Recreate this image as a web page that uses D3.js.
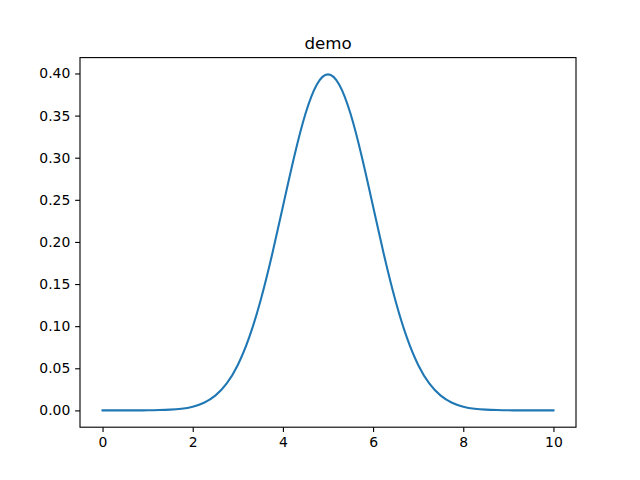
<!DOCTYPE html>
<html><head><meta charset="utf-8">
<script src="https://cdn.jsdelivr.net/npm/d3@7"></script>
<style>body{margin:0;background:#fff}svg{display:block}text{font-family:"DejaVu Sans",sans-serif}</style>
</head><body>
<script>
const title = "demo";
const xValues = [0,0.25,0.5,0.75,1,1.25,1.5,1.75,2,2.25,2.5,2.75,3,3.25,3.5,3.75,4,4.25,4.5,4.75,5,5.25,5.5,5.75,6,6.25,6.5,6.75,7,7.25,7.5,7.75,8,8.25,8.5,8.75,9,9.25,9.5,9.75,10];
const yValues = [0.0000,0.0000,0.0000,0.0000,0.0001,0.0004,0.0009,0.0020,0.0044,0.0091,0.0175,0.0317,0.0540,0.0863,0.1295,0.1826,0.2420,0.3011,0.3521,0.3867,0.3989,0.3867,0.3521,0.3011,0.2420,0.1826,0.1295,0.0863,0.0540,0.0317,0.0175,0.0091,0.0044,0.0020,0.0009,0.0004,0.0001,0.0000,0.0000,0.0000,0.0000];
const xTicks = [0,2,4,6,8,10];
const yTicks = [0,0.05,0.10,0.15,0.20,0.25,0.30,0.35,0.40];

const W=640,H=480, L=80, R=576, T=57.6, B=427.2;
const svg=d3.select("body").append("svg").attr("width",W).attr("height",H);
const xmin=d3.min(xValues), xmax=d3.max(xValues), ymin=d3.min(yValues), ymax=d3.max(yValues);
const xm=(xmax-xmin)*0.05, ym=(ymax-ymin)*0.05;
const x=d3.scaleLinear().domain([xmin-xm,xmax+xm]).range([L,R]);
const y=d3.scaleLinear().domain([ymin-ym,ymax+ym]).range([B,T]);
const data=xValues.map((v,i)=>[v,yValues[i]]);

svg.append("path").datum(data)
  .attr("fill","none").attr("stroke","#1f77b4").attr("stroke-width",2.08)
  .attr("stroke-linejoin","round").attr("stroke-linecap","square")
  .attr("d",d3.line().x(d=>x(d[0])).y(d=>y(d[1])).curve(d3.curveNatural));

const gx=svg.append("g").attr("transform",`translate(0,${B})`)
  .call(d3.axisBottom(x).tickValues(xTicks).tickFormat(d3.format("d")).tickSize(4.86).tickPadding(4.86));
const gy=svg.append("g").attr("transform",`translate(${L},0)`)
  .call(d3.axisLeft(y).tickValues(yTicks).tickFormat(d3.format(".2f")).tickSize(4.86).tickPadding(4.86));
[gx,gy].forEach(g=>{
  g.select(".domain").remove();
  g.selectAll(".tick line").attr("stroke","#000").attr("stroke-width",1.11);
  g.selectAll(".tick text").attr("fill","#000").style("font-size","13.9px").style("font-family","DejaVu Sans");
});

svg.append("rect").attr("x",L).attr("y",T).attr("width",R-L).attr("height",B-T)
  .attr("fill","none").attr("stroke","#000").attr("stroke-width",1.11);

svg.append("text").attr("x",(L+R)/2).attr("y",T-8.33).attr("text-anchor","middle")
  .style("font-size","16.67px").attr("fill","#000").text(title);
</script>
</body></html>
